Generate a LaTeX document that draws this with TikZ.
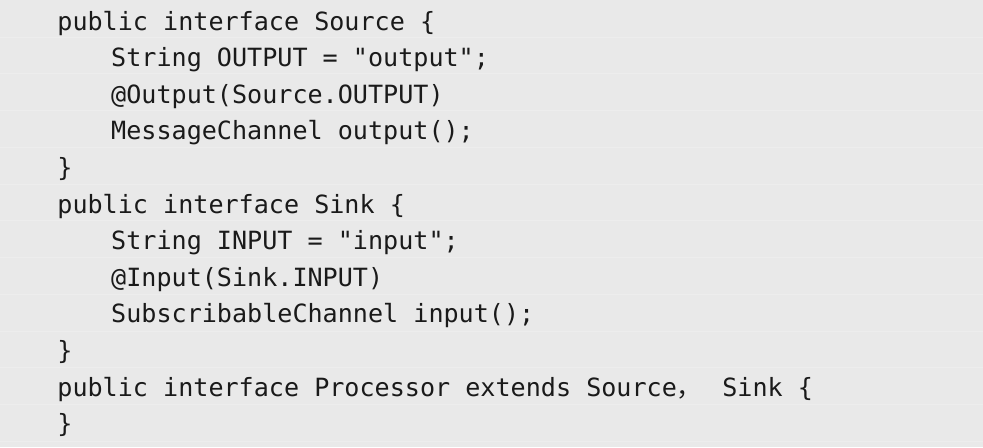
\documentclass[tikz,border=0pt]{standalone}
\usepackage{fontspec}
\setmonofont{DejaVu Sans Mono}
\newfontfamily\cjk{Noto Sans CJK SC}
\definecolor{codebg}{HTML}{E9E9E9}
\definecolor{codeline}{HTML}{EDEDED}
\definecolor{codetext}{HTML}{1A1A1A}
\tikzset{
  code/.style={anchor=base west, inner sep=0pt, text=codetext,
    font=\ttfamily\fontsize{12.55}{15}\selectfont},
  rowsep/.style={draw=codeline, line width=0.5pt}
}
\newcommand{\fwcomma}{\makebox[15.1pt][l]{\cjk ，}}

\begin{document}
\begin{tikzpicture}[x=0.5pt, y=-0.5pt]
	% background and faint row borders
	\fill[codebg] (0,0) rectangle (983,447);
	\useasboundingbox (0,0) rectangle (983,447);
	\foreach \k in {0,...,11}
		\draw[rowsep] (0, 37+\k*36.75) -- (983, 37+\k*36.75);

	\node[code] (src)      at (57, 30)    {public interface Source \{};
	\node[code] (srcconst) at (110.8, 66.6)  {String OUTPUT = "output";};
	\node[code] (srcanno)  at (110.8, 103.2) {@Output(Source.OUTPUT)};
	\node[code] (srcmeth)  at (110.8, 139.8) {MessageChannel output();};
	\node[code] (srcend)   at (57, 176.4) {\}};
	\node[code] (snk)      at (57, 213)   {public interface Sink \{};
	\node[code] (snkconst) at (110.8, 249.6) {String INPUT = "input";};
	\node[code] (snkanno)  at (110.8, 286.2) {@Input(Sink.INPUT)};
	\node[code] (snkmeth)  at (110.8, 322.8) {SubscribableChannel input();};
	\node[code] (snkend)   at (57, 359.4) {\}};
	\node[code] (proc)     at (57, 396)   {public interface Processor extends Source\fwcomma{} Sink \{};
	\node[code] (procend)  at (57, 432.6) {\}};
\end{tikzpicture}
\end{document}
